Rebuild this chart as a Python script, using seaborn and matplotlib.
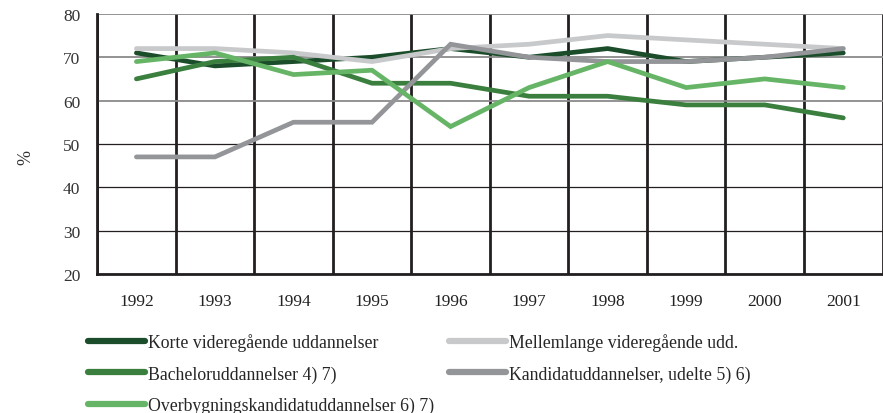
import matplotlib
matplotlib.use("Agg")
import matplotlib.pyplot as plt
import seaborn as sns
import pandas as pd

# data (percent)
years = ["1992", "1993", "1994", "1995", "1996", "1997", "1998", "1999", "2000", "2001"]
korte = [71, 68, 69, 70, 72, 70, 72, 69, 70, 71]
mellemlange = [72, 72, 71, 69, 72, 73, 75, 74, 73, 72]
bachelor = [65, 69, 70, 64, 64, 61, 61, 59, 59, 56]
kandidat = [47, 47, 55, 55, 73, 70, 69, 69, 70, 72]
overbygning = [69, 71, 66, 67, 54, 63, 69, 63, 65, 63]

series = {
    "Korte videregående uddannelser": korte,
    "Mellemlange videregående udd.": mellemlange,
    "Bacheloruddannelser 4) 7)": bachelor,
    "Kandidatuddannelser, udelte 5) 6)": kandidat,
    "Overbygningskandidatuddannelser 6) 7)": overbygning,
}
colors = ["#1b4d2b", "#c8c9cb", "#3b7f3f", "#939598", "#66b566"]

rows = []
for name, vals in series.items():
    for i, v in enumerate(vals):
        rows.append({"pos": i, "year": years[i], "serie": name, "pct": v})
df = pd.DataFrame(rows)

sns.set_style("white")
plt.rcParams["font.family"] = ["Liberation Serif", "DejaVu Serif"]

fig = plt.figure(figsize=(8.83, 4.14), dpi=100)
ax = fig.add_axes([0.11, 0.336, 0.8895, 0.628])

sns.lineplot(data=df, x="pos", y="pct", hue="serie", palette=colors,
             linewidth=3.4, ax=ax, sort=False)
for ln in ax.lines:
    ln.set_solid_capstyle("round")
    ln.set_solid_joinstyle("miter")

ax.set_xlim(-0.5, 9.5)
ax.set_ylim(20, 80)
ax.set_yticks(range(20, 81, 10))
ax.set_xticks(range(len(years)))
ax.set_xticklabels(years)
ax.set_xticks([i - 0.5 for i in range(len(years) + 1)], minor=True)
ax.tick_params(axis="x", which="major", length=0, pad=14, labelsize=12.5, colors="#222222")
ax.tick_params(axis="x", which="minor", length=7, width=2, color="#231f20", direction="out")
ax.tick_params(axis="y", length=0, pad=12, labelsize=12.5, colors="#333333")
ax.grid(False)
ax.xaxis.grid(True, which="minor", color="#231f20", linewidth=2)
ax.yaxis.grid(True, which="major", color="#777777", linewidth=1.1)
# upper grid lines are grey, lower ones thin black in the original
for val, gl in zip(range(20, 81, 10), ax.yaxis.get_gridlines()):
    if val <= 50:
        gl.set_color("#231f20")
        gl.set_linewidth(0.9)
    else:
        gl.set_color("#8a8a8a")
        gl.set_linewidth(1.3)
ax.set_axisbelow(True)

for s in ["top", "right"]:
    ax.spines[s].set_visible(False)
ax.spines["left"].set_color("#231f20")
ax.spines["left"].set_linewidth(2)
ax.spines["bottom"].set_color("#231f20")
ax.spines["bottom"].set_linewidth(2)

ax.set_xlabel("")
ax.set_ylabel("%", fontsize=13, color="#333333")
ax.yaxis.set_label_coords(-0.08, 0.45)

handles, labels = ax.get_legend_handles_labels()
ax.get_legend().remove()
order = [0, 2, 4, 1, 3]
for h in handles:
    h.set_linewidth(4.5)
    h.set_solid_capstyle("round")
fig.legend([handles[i] for i in order], [labels[i] for i in order],
           ncol=2, loc="upper left", bbox_to_anchor=(0.092, 0.21),
           frameon=False, fontsize=12.8, handlelength=3.2, handletextpad=0.15,
           columnspacing=0.85, labelspacing=0.8, borderaxespad=0)

fig.savefig("out.png", dpi=100)
